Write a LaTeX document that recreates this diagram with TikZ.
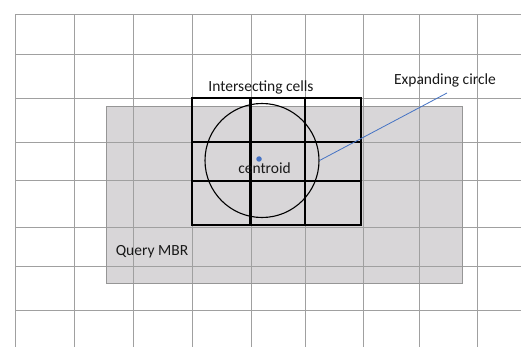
\documentclass[tikz,border=0pt]{standalone}
\usepackage{fontspec}
\setmainfont{Carlito}
\definecolor{gridgray}{RGB}{160,160,160}
\definecolor{mbrfill}{RGB}{216,214,216}
\definecolor{mbrline}{RGB}{150,150,150}
\definecolor{leaderblue}{RGB}{68,114,196}
\begin{document}
\begin{tikzpicture}[x=1pt,y=-1pt,
  gridline/.style={draw=gridgray,line width=1pt},
  mbrbox/.style={draw=mbrline,line width=1pt},
  boldcell/.style={draw=black,line width=2.8pt,line cap=rect},
  expcircle/.style={circle,draw=black,line width=1.1pt,minimum size=114pt,inner sep=0pt},
  label/.style={font=\fontsize{15.5}{18}\selectfont,inner sep=0pt,text=black!90},
  leader/.style={draw=leaderblue,line width=0.8pt},
  dot/.style={circle,fill=leaderblue,minimum size=5.5pt,inner sep=0pt}]
\useasboundingbox (0,0) rectangle (521,347);
\fill[white] (0,0) rectangle (521,347);
\fill[mbrfill] (106,107) rectangle (462,283);
\foreach \x in {15,74,133,192,251,305,363,419,477}
  \draw[gridline] (\x,15) -- (\x,347);
\foreach \y in {15,55,99,143,181,227,266,310}
  \draw[gridline] (15,\y) -- (521,\y);
\draw[mbrbox] (106,107) rectangle (462,283);
\draw[boldcell] (192,98) rectangle (361,225);
\foreach \x in {250.5,305}
  \draw[boldcell] (\x,98) -- (\x,225);
\foreach \y in {142,181}
  \draw[boldcell] (192,\y) -- (361,\y);
\node[expcircle] (circ) at (262,160.5) {};
\node[dot] (cen) at (259,159) {};
\node[label] (centxt) at (264.5,168) {centroid};
\node[label] (inter) at (261,87) {Intersecting cells};
\node[label] (expand) at (445,80) {Expanding circle};
\node[label] (query) at (152,252) {Query MBR};
\coordinate (lead) at (447,93);
\draw[leader] (lead) -- (circ.east);
\end{tikzpicture}
\end{document}
